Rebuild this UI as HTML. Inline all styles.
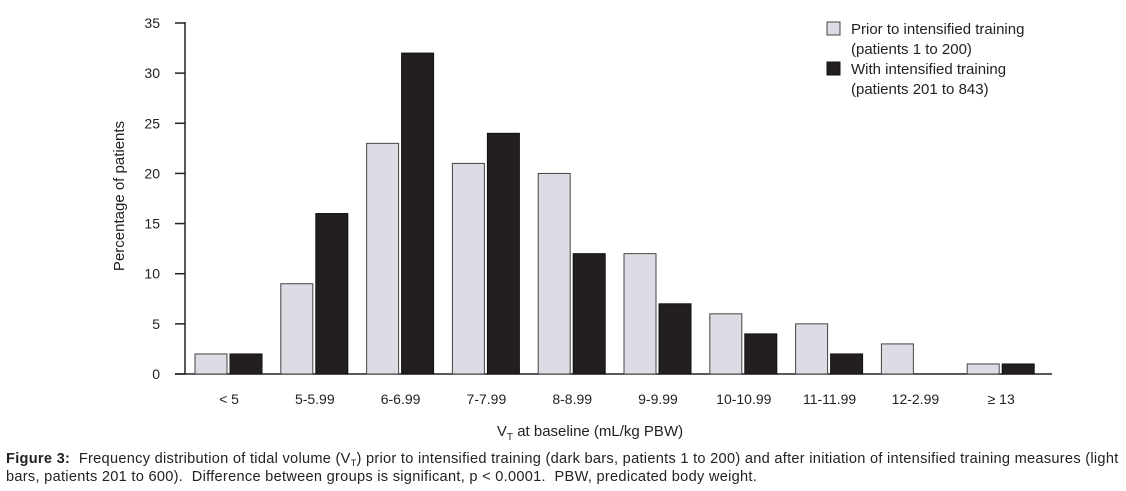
<!DOCTYPE html>
<html><head><meta charset="utf-8"><style>
body{margin:0;background:#fff;width:1126px;height:491px;overflow:hidden;font-family:"Liberation Sans",sans-serif}
svg{position:absolute;left:0;top:0}
.cap{position:absolute;left:6px;top:450px;font-size:14.6px;line-height:18px;color:#222;width:1125px;white-space:nowrap;letter-spacing:0.28px}
.cap sub{font-size:9px;line-height:0;vertical-align:-3px}
</style></head><body>
<svg id="chart" width="1126" height="440"></svg>
<div class="cap"><b>Figure 3:</b>&nbsp; Frequency distribution of tidal volume (V<sub>T</sub>) prior to intensified training (dark bars, patients 1 to 200) and after initiation of intensified training measures (light<br>bars, patients 201 to 600).&nbsp; Difference between groups is significant, p &lt; 0.0001.&nbsp; PBW, predicated body weight.</div>
<script>
const categories=["< 5","5-5.99","6-6.99","7-7.99","8-8.99","9-9.99","10-10.99","11-11.99","12-2.99","\u2265 13"];
const prior=[2,9,23,21,20,12,6,5,3,1];
const withTraining=[2,16,32,24,12,7,4,2,0,1];
const yTicks=[0,5,10,15,20,25,30,35];
const NS="http://www.w3.org/2000/svg";
const svg=document.getElementById('chart');
const y0=374,yTop=23,yMax=35;
const y=v=>y0-(v/yMax)*(y0-yTop);
const step=85.8,x0=195;
const x=i=>x0+i*step;
function mk(t,a,p){const e=document.createElementNS(NS,t);for(const k in a)e.setAttribute(k,a[k]);(p||svg).appendChild(e);return e;}
let e=mk('line',{x1:185,y1:22,x2:185,y2:y0,stroke:'#222','stroke-width':1.5});

e=mk('line',{x1:175,y1:y0,x2:1052,y2:y0,stroke:'#222','stroke-width':1.5});

yTicks.forEach(v=>{
 let t=mk('line',{x1:175,y1:y(v),x2:185,y2:y(v),stroke:'#222','stroke-width':1.5});
 
 let l=mk('text',{x:160,y:y(v)+5,'text-anchor':'end','font-size':14,fill:'#222'});
 l.textContent=v;
 
});
categories.forEach((c,i)=>{
 const bx=x(i);
 let b=mk('rect',{x:bx,y:y(prior[i]),width:32,height:y0-y(prior[i]),fill:'#dcdce4',stroke:'#444','stroke-width':1});
 
 if(withTraining[i]>0){
 let d=mk('rect',{x:bx+35,y:y(withTraining[i]),width:32,height:y0-y(withTraining[i]),fill:'#231f20',stroke:'#111','stroke-width':1});
 }
 let l=mk('text',{x:bx+34,y:404,'text-anchor':'middle','font-size':14,fill:'#222'});
 l.textContent=c;
 
});
let yt=mk('text',{x:124,y:196,'text-anchor':'middle','font-size':15,fill:'#222',transform:'rotate(-90 124 196)'});
yt.textContent='Percentage of patients';

let xt=mk('text',{x:590,y:436,'text-anchor':'middle','font-size':15,fill:'#222'});
xt.innerHTML='V<tspan font-size="10" dy="4">T</tspan><tspan dy="-4"> at baseline (mL/kg PBW)</tspan>';

let g=mk('g',{});

let r1=mk('rect',{x:827,y:22,width:13,height:13,fill:'#dcdce4',stroke:'#444'},g);

let r2=mk('rect',{x:827,y:62,width:13,height:13,fill:'#231f20',stroke:'#111'},g);

[["Prior to intensified training",34],["(patients 1 to 200)",54],["With intensified training",74],["(patients 201 to 843)",94]].forEach(([t,yy])=>{
 let l=mk('text',{x:851,y:yy,'font-size':15,fill:'#222'},g);l.textContent=t;
 
});
</script>
</body></html>
